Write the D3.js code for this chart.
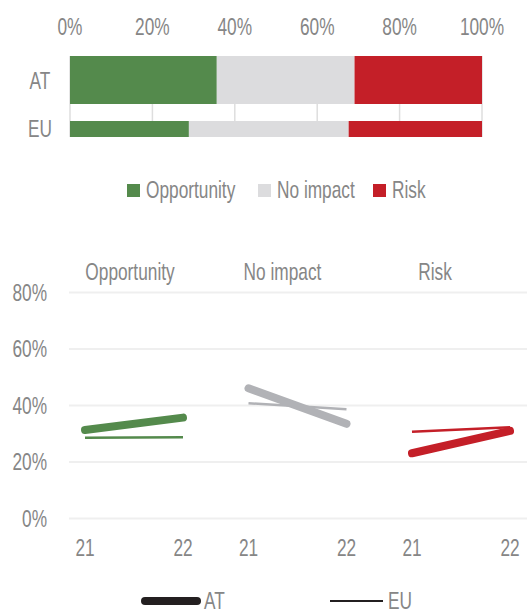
<!DOCTYPE html>
<html lang="en">
<head>
<meta charset="UTF-8">
<title>Opportunity / Risk</title>
<script src="https://cdn.jsdelivr.net/npm/d3@7"></script>
<style>
    body { margin: 0; background: #fff; }
    svg text { font-family: "Liberation Sans", Arial, sans-serif; fill: #868686; }
</style>
</head>
<body>
<svg id="chart" width="527" height="613"></svg>
<script>
// categories
const impacts = ['Opportunity', 'No impact', 'Risk']
const regions = ['AT', 'EU']
const years = ['21', '22']
const colors = ['#548a4c', '#dcdcde', '#c41f28']
const lineColors = ['#548a4c', '#b1b2b6', '#c41f28']

// share per impact, 2021 and 2022 (values in %)
const atValues = [[31.3, 35.7], [46.1, 33.5], [23.1, 31.0]]
const euValues = [[28.6, 28.8], [40.8, 38.7], [30.7, 32.3]]

// ticks
const barTicks = [0, 20, 40, 60, 80, 100]
const lineTicks = [0, 20, 40, 60, 80]

const svg = d3.select('#chart')
const fs = 24

// narrow font is not installed, so squeeze the text horizontally
const squeeze = 0.72
function place(sel, fx, fy) {
    return sel.attr('transform', (d, i) => `translate(${fx(d, i)},${fy(d, i)}) scale(${squeeze},1)`)
}

// ---------- stacked bar (2022) ----------
let x = d3.scaleLinear().domain([0, 100]).range([70, 482])

// vertical grid
svg.append('g').selectAll('line')
    .data(barTicks)
    .join('line')
    .attr('x1', d => x(d)).attr('x2', d => x(d))
    .attr('y1', 56).attr('y2', 137)
    .attr('stroke', '#dedede')
    .attr('stroke-width', 1.5)

// top tick labels
place(svg.append('g').selectAll('text')
    .data(barTicks)
    .join('text'), d => x(d), () => 35)
    .attr('text-anchor', 'middle')
    .attr('font-size', fs)
    .text(d => d + '%')

// bars: 100% stacked, AT bar is thick, EU bar is thin
let barRows = regions.map(r => {
    let vals = (r === 'AT' ? atValues : euValues).map(v => v[1])
    let total = d3.sum(vals)
    let start = 0
    return vals.map((v, j) => {
        let share = v / total * 100
        let seg = {region: r, key: impacts[j], x0: start, x1: start + share}
        start += share
        return seg
    })
}).flat()

let barHeight = r => r === 'AT' ? 48 : 16

svg.append('g').selectAll('rect')
    .data(barRows)
    .join('rect')
    .attr('x', d => x(d.x0))
    .attr('width', d => x(d.x1) - x(d.x0))
    .attr('y', d => d.region === 'AT' ? 56 : 137 - barHeight(d.region))
    .attr('height', d => barHeight(d.region))
    .attr('fill', d => colors[impacts.indexOf(d.key)])

// region labels
place(svg.append('g').selectAll('text')
    .data(regions)
    .join('text'), () => 40, d => d === 'AT' ? 81 : 129)
    .attr('dy', '0.35em')
    .attr('text-anchor', 'middle')
    .attr('font-size', fs)
    .text(d => d)

// legend for bar chart
let legendX = [127, 258, 373]
let leg = svg.append('g').selectAll('g')
    .data(impacts)
    .join('g')
    .attr('transform', (d, i) => `translate(${legendX[i]},184)`)
leg.append('rect')
    .attr('width', 13).attr('height', 13)
    .attr('fill', (d, i) => colors[i])
place(leg.append('text'), () => 19, () => 14)
    .attr('font-size', fs)
    .text(d => d)

// ---------- slope lines ----------
let yl = d3.scaleLinear().domain([0, 80]).range([518.5, 292.5])
let panel = d3.scaleBand().domain(impacts).range([69, 69 + 3 * 163.5])
let yr = d3.scalePoint().domain(years).range([16, 114])
let titleX = d3.scalePoint().domain(impacts).range([130, 435])

// horizontal grid
svg.append('g').selectAll('line')
    .data(lineTicks)
    .join('line')
    .attr('x1', 69).attr('x2', 527)
    .attr('y1', d => yl(d)).attr('y2', d => yl(d))
    .attr('stroke', '#efefef')
    .attr('stroke-width', 2)

// y labels
place(svg.append('g').selectAll('text')
    .data(lineTicks)
    .join('text'), () => 47, d => yl(d))
    .attr('dy', '0.35em')
    .attr('text-anchor', 'end')
    .attr('font-size', fs)
    .text(d => d + '%')

// panel titles
place(svg.append('g').selectAll('text')
    .data(impacts)
    .join('text'), d => titleX(d), () => 280)
    .attr('text-anchor', 'middle')
    .attr('font-size', fs)
    .text(d => d)

// x tick labels
let xTicks = impacts.map(p => years.map(yy => ({p, yy}))).flat()
place(svg.append('g').selectAll('text')
    .data(xTicks)
    .join('text'), d => panel(d.p) + yr(d.yy), () => 556)
    .attr('text-anchor', 'middle')
    .attr('font-size', fs)
    .text(d => d.yy)

let line = d3.line()

let series = []
impacts.forEach((p, i) => {
    series.push({region: 'EU', color: lineColors[i], pts: years.map((yy, k) => [panel(p) + yr(yy), yl(euValues[i][k])])})
    series.push({region: 'AT', color: lineColors[i], pts: years.map((yy, k) => [panel(p) + yr(yy), yl(atValues[i][k])])})
})

svg.append('g').selectAll('path')
    .data(series)
    .join('path')
    .attr('d', d => line(d.pts))
    .attr('fill', 'none')
    .attr('stroke', d => d.color)
    .attr('stroke-width', d => d.region === 'AT' ? 8 : 2.5)
    .attr('stroke-linecap', d => d.region === 'AT' ? 'round' : 'butt')

// legend for lines
let lineLegend = [
    {label: 'AT', x1: 145, x2: 197, w: 8},
    {label: 'EU', x1: 330, x2: 383, w: 2.2}
]
let ll = svg.append('g').selectAll('g')
    .data(lineLegend)
    .join('g')
ll.append('line')
    .attr('x1', d => d.x1).attr('x2', d => d.x2)
    .attr('y1', 601).attr('y2', 601)
    .attr('stroke', '#231f20')
    .attr('stroke-width', d => d.w)
    .attr('stroke-linecap', d => d.w > 4 ? 'round' : 'butt')
place(ll.append('text'), (d, i) => d.x2 + (i === 0 ? 7 : 5), () => 601)
    .attr('dy', '0.35em')
    .attr('font-size', fs)
    .text(d => d.label)
</script>
</body>
</html>
